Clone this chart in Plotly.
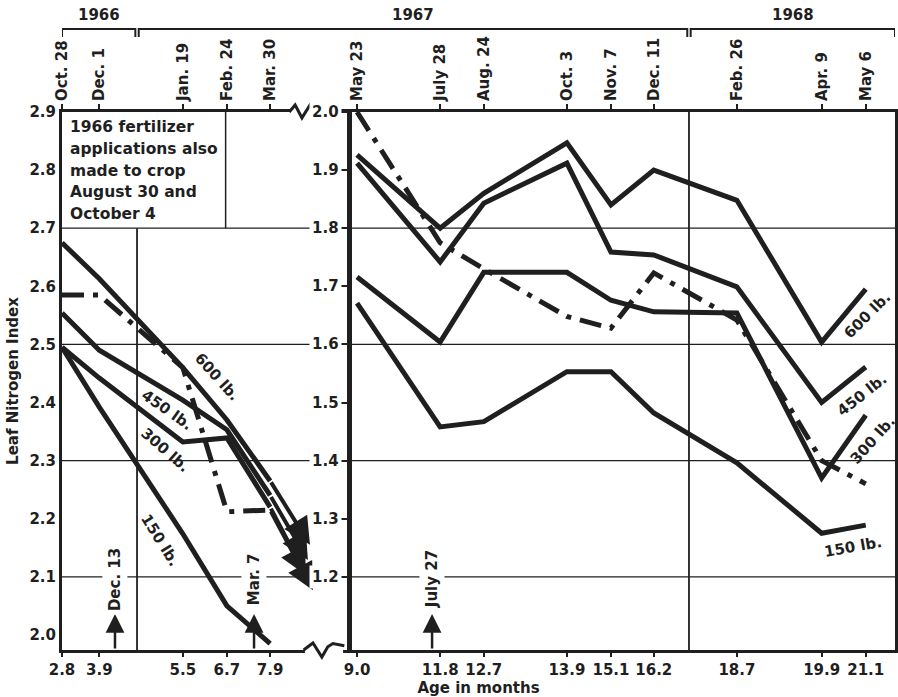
import plotly.graph_objects as go

# ---------------- data ----------------
dates_left = ["Oct. 28", "Dec. 1", "Jan. 19", "Feb. 24", "Mar. 30"]
dates_right = ["May 23", "July 28", "Aug. 24", "Oct. 3", "Nov. 7", "Dec. 11",
               "Feb. 26", "Apr. 9", "May 6"]
ages_left = [2.8, 3.9, 5.5, 6.7, 7.9]
ages_right = [9.0, 11.8, 12.7, 13.9, 15.1, 16.2, 18.7, 19.9, 21.1]

left_ticks = [2.0, 2.1, 2.2, 2.3, 2.4, 2.5, 2.6, 2.7, 2.8, 2.9]
right_ticks = [1.2, 1.3, 1.4, 1.5, 1.6, 1.7, 1.8, 1.9, 2.0]
grid_levels = [2.1, 2.3, 2.5, 2.7]

# leaf N index, 1966-67 panel (left scale)
n600_left = [2.675, 2.613, 2.46, 2.37, 2.265]
n450_left = [2.554, 2.49, 2.404, 2.353, 2.24]
n300_left = [2.495, 2.442, 2.332, 2.339, 2.22]
n150_left = [2.495, 2.392, 2.174, 2.05, 1.985]
ndash_left = [2.585, 2.585, 2.46, 2.212, 2.215]
# continuation arrows toward the axis break
arrow_end = {"600": 2.155, "450": 2.129, "300": 2.103, "dash": 2.077}

# leaf N index, 1967-68 panel (right scale)
n600_right = [1.926, 1.80, 1.86, 1.947, 1.84, 1.90, 1.848, 1.604, 1.695]
n450_right = [1.912, 1.742, 1.843, 1.912, 1.759, 1.754, 1.699, 1.50, 1.561]
n300_right = [1.716, 1.604, 1.724, 1.724, 1.676, 1.656, 1.654, 1.37, 1.478]
n150_right = [1.671, 1.458, 1.467, 1.553, 1.553, 1.482, 1.396, 1.275, 1.289]
ndash_right = [2.0, 1.775, 1.73, 1.648, 1.628, 1.723, 1.642, 1.40, 1.36]

applications = ["Dec. 13", "Mar. 7", "July 27"]
years = ["1966", "1967", "1968"]
note_lines = ["1966 fertilizer", "applications also", "made to crop",
              "August 30 and", "October 4"]

# ---------------- layout positions (sampling slots) ----------------
pos_left = [0.0, 0.88, 2.85, 3.89, 4.91]
pos_right = [6.96, 8.92, 9.95, 11.91, 12.95, 13.96, 15.92, 17.92, 18.96]
arrow_pos = {"600": 5.85, "450": 5.80, "300": 5.75, "dash": 5.92}
app_pos = [1.25, 4.53, 8.73]
year_bounds = [0.0, 1.77, 14.79, 19.65]
DIV = 6.77
XR = [0, 19.65]
YL = [1.974, 2.9]
SHIFT = 0.9
YR = [YL[0] - SHIFT, YL[1] - SHIFT]

INK = "#1f1f1f"
FONT = "DejaVu Sans"
W, H = 898, 697
ML, MR, MT, MB = 62, 3, 112, 47


def f(size=15):
    return dict(family=FONT, size=size, color=INK, weight="bold")


fig = go.Figure()
DASH = "22px,9px,5px,9px"


def add(xs, ys, yax, dash=None):
    fig.add_trace(go.Scatter(x=xs, y=ys, yaxis=yax, mode="lines",
                             line=dict(color=INK, width=5, dash=dash),
                             hoverinfo="skip", showlegend=False))


for s in [n600_left, n450_left, n300_left, n150_left]:
    add(pos_left, s, "y")
add(pos_left, ndash_left, "y", DASH)
for s in [n600_right, n450_right, n300_right, n150_right]:
    add(pos_right, s, "y2")
add(pos_right, ndash_right, "y2", DASH)
# dummy trace so the top date axis is drawn
fig.add_trace(go.Scatter(x=[None], y=[None], xaxis="x2", showlegend=False, hoverinfo="skip"))

# continuation arrows
for key, series in [("600", n600_left), ("450", n450_left), ("300", n300_left), ("dash", ndash_left)]:
    fig.add_annotation(x=arrow_pos[key], y=arrow_end[key], ax=pos_left[-1], ay=series[-1],
                       xref="x", yref="y", axref="x", ayref="y", text="", showarrow=True,
                       arrowhead=2, arrowsize=1.35, arrowwidth=4, arrowcolor=INK, standoff=0)

# series labels
labels_left = [("600 lb.", 3.66, 2.444, 48), ("450 lb.", 2.48, 2.387, 35),
               ("300 lb.", 2.43, 2.318, 41), ("150 lb.", 2.31, 2.163, 58)]
for t, x, y, a in labels_left:
    fig.add_annotation(x=x, y=y, xref="x", yref="y", text=t, textangle=a, showarrow=False,
                       font=f(15))
labels_right = [("600 lb.", 19.0, 1.651, -45), ("450 lb.", 18.87, 1.513, -38),
                ("300 lb.", 19.13, 1.435, -48), ("150 lb.", 18.66, 1.251, -10)]
for t, x, y, a in labels_right:
    fig.add_annotation(x=x, y=y, xref="x", yref="y2", text=t, textangle=a, showarrow=False,
                       font=f(15))

# application arrows + labels
for t, p in zip(applications, app_pos):
    fig.add_annotation(x=p, y=2.036, ax=p, ay=YL[0], xref="x", yref="y", axref="x", ayref="y",
                       text="", showarrow=True, arrowhead=2, arrowsize=1.5, arrowwidth=2.5,
                       arrowcolor=INK, standoff=0)
    fig.add_annotation(x=p, y=2.096, xref="x", yref="y", text=t, textangle=-90, showarrow=False,
                       font=f(15), bgcolor="white", borderpad=3)

# right-panel tick labels
for v in right_ticks:
    fig.add_annotation(x=DIV, y=v, xref="x", yref="y2", text=f"{v:.1f}", showarrow=False,
                       xanchor="right", xshift=-7, font=f(15), bgcolor="white", borderpad=2)

# note box text, one annotation per line
for i, line in enumerate(note_lines):
    fig.add_annotation(x=0, y=2.874 - i * 0.0375, xref="x", yref="y", text=line,
                       showarrow=False, xanchor="left", yanchor="middle", xshift=6,
                       font=f(15.5))

shapes = []
for g in grid_levels:
    shapes.append(dict(type="line", xref="paper", x0=0, x1=1, yref="y", y0=g, y1=g,
                       line=dict(color=INK, width=1.2), layer="below"))
shapes.append(dict(type="line", xref="x", x0=3.86, x1=3.86, yref="y", y0=2.7, y1=2.9,
                   line=dict(color=INK, width=1.5)))
shapes.append(dict(type="line", xref="x", x0=year_bounds[1], x1=year_bounds[1], yref="y",
                   y0=YL[0], y1=2.7, line=dict(color=INK, width=1.8)))
shapes.append(dict(type="line", xref="x", x0=year_bounds[2], x1=year_bounds[2], yref="paper",
                   y0=0, y1=1, line=dict(color=INK, width=1.8)))
# year brackets
ytop, ybot = 1.1543, 1.1394
for i, yr in enumerate(years):
    a = year_bounds[i] + (0.04 if i > 0 else 0)
    b = year_bounds[i + 1] - (0.04 if i < 2 else 0)
    shapes.append(dict(type="path", xref="x", yref="paper",
                       path=f"M {a},{ybot} L {a},{ytop} L {b},{ytop} L {b},{ybot}",
                       line=dict(color=INK, width=2)))
    fig.add_annotation(x=(a + b) / 2, y=1.180, xref="x", yref="paper", text=yr,
                       showarrow=False, xanchor="center", yanchor="middle", font=f(15))
# axis breaks
shapes.append(dict(type="rect", xref="x", yref="paper", x0=5.38, x1=5.92, y0=0.994, y1=1.006,
                   fillcolor="white", line=dict(width=0), layer="above"))
shapes.append(dict(type="path", xref="x", yref="paper",
                   path="M 5.36,1.0 L 5.5,1.013 L 5.66,0.989 L 5.85,1.013 L 5.94,1.0",
                   line=dict(color=INK, width=3), layer="above"))
shapes.append(dict(type="rect", xref="x", yref="paper", x0=5.73, x1=6.63, y0=-0.006, y1=0.006,
                   fillcolor="white", line=dict(width=0), layer="above"))
shapes.append(dict(type="path", xref="x", yref="paper",
                   path="M 5.7,0.0 L 5.92,0.013 L 6.13,-0.013 L 6.27,0.006 L 6.39,0.012 L 6.66,0.008",
                   line=dict(color=INK, width=3), layer="above"))

fig.update_layout(
    width=W, height=H, autosize=False,
    margin=dict(l=ML, r=MR, t=MT, b=MB, pad=0),
    paper_bgcolor="white", plot_bgcolor="white",
    font=f(15), showlegend=False, shapes=shapes,
    xaxis=dict(range=XR, tickvals=pos_left + pos_right,
               ticktext=[f"{a:.1f}" for a in ages_left + ages_right],
               showgrid=False, zeroline=False, showline=True, linewidth=3, linecolor=INK,
               mirror=True, ticks="outside", ticklen=4, tickwidth=2, tickcolor=INK,
               tickfont=f(15), automargin=False,
               title=dict(text="Age in months", font=f(15), standoff=2)),
    xaxis2=dict(range=XR, overlaying="x", side="top", anchor="y",
                tickvals=pos_left + pos_right, ticktext=dates_left + dates_right,
                tickangle=-90, ticks="outside", ticklen=7, tickwidth=2, tickcolor=INK,
                showgrid=False, zeroline=False, showline=False, tickfont=f(15),
                automargin=False),
    yaxis=dict(range=YL, tickvals=left_ticks, ticktext=[f"{v:.1f}" for v in left_ticks],
               showgrid=False, zeroline=False, showline=True, linewidth=3, linecolor=INK,
               mirror=True, ticks="", tickfont=f(15), automargin=False,
               title=dict(text="Leaf Nitrogen Index", font=f(15), standoff=8)),
    yaxis2=dict(range=YR, overlaying="y", anchor="free", position=DIV / XR[1], side="left",
                tickvals=right_ticks, showticklabels=False, ticks="outside", ticklen=7,
                tickwidth=2, tickcolor=INK, showgrid=False, zeroline=False, showline=True,
                linewidth=5, linecolor=INK, automargin=False),
)

fig.write_html("out.html", config={"displayModeBar": False},
               post_script="document.body.style.margin='0';")
